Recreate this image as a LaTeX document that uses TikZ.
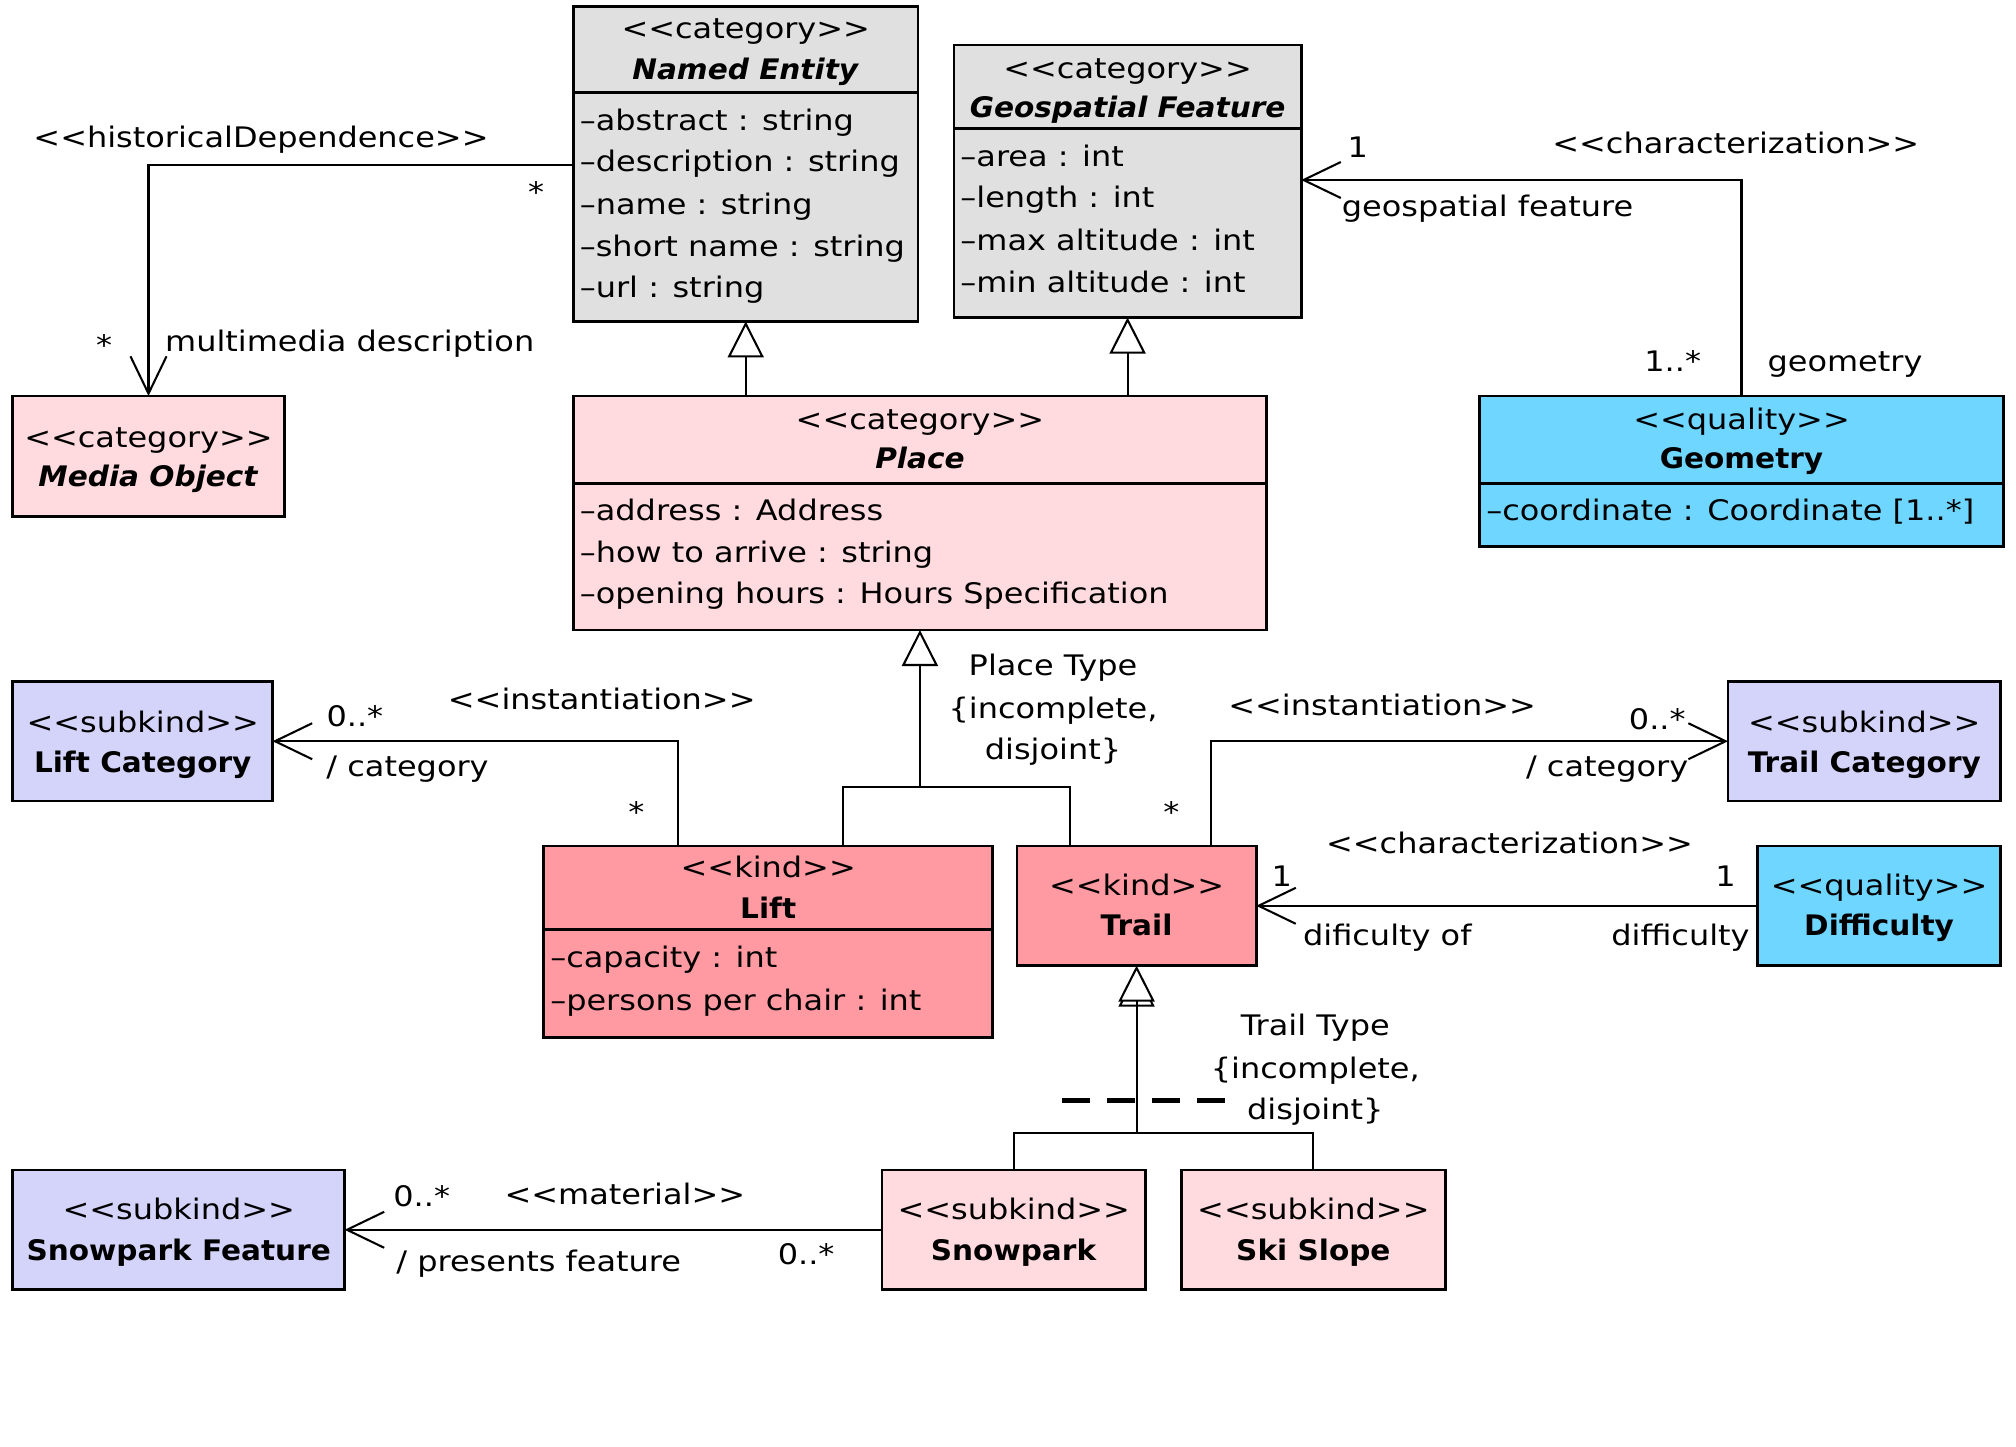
\documentclass[tikz,border=0pt]{standalone}
\usepackage{fontspec}
\setmainfont{DejaVu Sans}[
  UprightFeatures={FakeStretch=1.13},
  BoldFeatures={FakeStretch=1.045},
  BoldItalicFeatures={FakeStretch=1.045}]
\usetikzlibrary{arrows.meta,calc}

\definecolor{catgray}{HTML}{E0E0E0}
\definecolor{lightpink}{HTML}{FFDADE}
\definecolor{kindpink}{HTML}{FF9AA2}
\definecolor{lavender}{HTML}{D4D4FA}
\definecolor{qualcyan}{HTML}{6FD6FF}

% stereotype brackets kept apart so no ligature forms
\newcommand\stereo[1]{<\kern0pt<#1>\kern0pt>}

\tikzset{
  every node/.style={font=\fontsize{22}{26}\selectfont, inner sep=0pt, outer sep=0pt},
  classbox/.style={draw, line width=2.2pt, anchor=north west, inner sep=0pt, outer sep=0pt},
  sep/.style={line width=2.2pt},
  conn/.style={line width=1.6pt},
  assoctip/.style={-{Straight Barb[length=29pt,width=28pt]}},
  gentip/.style={-{Triangle[length=28pt,width=28pt,fill=white]}},
  lbl/.style={anchor=mid, yshift=-5pt},
  attr/.style={anchor=mid west, yshift=-5pt},
}

\begin{document}
\begin{tikzpicture}[x=1pt,y=-1pt]
\useasboundingbox[fill=white] (0,0) rectangle (1568,1125);

% ---------- classes ----------
% Named Entity
\node (ne) [classbox, fill=catgray, minimum width=268pt, minimum height=245pt] at (446,5) {};
\draw[sep] ([yshift=-67pt]ne.north west) -- ([yshift=-67pt]ne.north east);
\node (ne-s) [lbl] at (580,22) {\stereo{category}};
\node (ne-n) [lbl] at (580,54) {\textbf{\textit{Named Entity}}};
\node (ne-a1) [attr] at (451,94) {–abstract : string};
\node (ne-a2) [attr] at (451,126) {–description : string};
\node (ne-a3) [attr] at (451,159) {–name : string};
\node (ne-a4) [attr] at (451,192) {–short name : string};
\node (ne-a5) [attr] at (451,224) {–url : string};

% Geospatial Feature
\node (gf) [classbox, fill=catgray, minimum width=270pt, minimum height=212pt] at (742,35) {};
\draw[sep] ([yshift=-65pt]gf.north west) -- ([yshift=-65pt]gf.north east);
\node (gf-s) [lbl] at (877,53) {\stereo{category}};
\node (gf-n) [lbl] at (877,84) {\textbf{\textit{Geospatial Feature}}};
\node (gf-a1) [attr] at (747,122) {–area : int};
\node (gf-a2) [attr] at (747,154) {–length : int};
\node (gf-a3) [attr] at (747,187) {–max altitude : int};
\node (gf-a4) [attr] at (747,220) {–min altitude : int};

% Media Object
\node (mo) [classbox, fill=lightpink, minimum width=211pt, minimum height=94pt] at (10,308) {};
\node (mo-s) [lbl] at (115.5,340) {\stereo{category}};
\node (mo-n) [lbl] at (115.5,371) {\textbf{\textit{Media Object}}};

% Place
\node (pl) [classbox, fill=lightpink, minimum width=539pt, minimum height=182pt] at (446,308) {};
\draw[sep] ([yshift=-68pt]pl.north west) -- ([yshift=-68pt]pl.north east);
\node (pl-s) [lbl] at (715.5,326) {\stereo{category}};
\node (pl-n) [lbl] at (715.5,357) {\textbf{\textit{Place}}};
\node (pl-a1) [attr] at (451,397) {–address : Address};
\node (pl-a2) [attr] at (451,430) {–how to arrive : string};
\node (pl-a3) [attr] at (451,462) {–opening hours : Hours Specification};

% Geometry
\node (geom) [classbox, fill=qualcyan, minimum width=407pt, minimum height=117pt] at (1151,308) {};
\draw[sep] ([yshift=-68pt]geom.north west) -- ([yshift=-68pt]geom.north east);
\node (geom-s) [lbl] at (1354.5,326) {\stereo{quality}};
\node (geom-n) [lbl] at (1354.5,357) {\textbf{Geometry}};
\node (geom-a1) [attr] at (1156,397) {–coordinate : Coordinate [1..*]};

% Lift Category
\node (lc) [classbox, fill=lavender, minimum width=202pt, minimum height=93pt] at (10,530) {};
\node (lc-s) [lbl] at (111,562) {\stereo{subkind}};
\node (lc-n) [lbl] at (111,593) {\textbf{Lift Category}};

% Trail Category
\node (tc) [classbox, fill=lavender, minimum width=212pt, minimum height=93pt] at (1344,530) {};
\node (tc-s) [lbl] at (1450,562) {\stereo{subkind}};
\node (tc-n) [lbl] at (1450,593) {\textbf{Trail Category}};

% Lift
\node (lift) [classbox, fill=kindpink, minimum width=349pt, minimum height=149pt] at (423,658) {};
\draw[sep] ([yshift=-65pt]lift.north west) -- ([yshift=-65pt]lift.north east);
\node (lift-s) [lbl] at (597.5,675) {\stereo{kind}};
\node (lift-n) [lbl] at (597.5,707) {\textbf{Lift}};
\node (lift-a1) [attr] at (428,745) {–capacity : int};
\node (lift-a2) [attr] at (428,778) {–persons per chair : int};

% Trail
\node (trail) [classbox, fill=kindpink, minimum width=186pt, minimum height=93pt] at (791,658) {};
\node (trail-s) [lbl] at (884,689) {\stereo{kind}};
\node (trail-n) [lbl] at (884,720) {\textbf{Trail}};

% Difficulty
\node (diff) [classbox, fill=qualcyan, minimum width=189pt, minimum height=93pt] at (1367,658) {};
\node (diff-s) [lbl] at (1461.5,689) {\stereo{quality}};
\node (diff-n) [lbl] at (1461.5,720) {\textbf{Difficulty}};

% Snowpark Feature
\node (spf) [classbox, fill=lavender, minimum width=258pt, minimum height=93pt] at (10,910) {};
\node (spf-s) [lbl] at (139,941) {\stereo{subkind}};
\node (spf-n) [lbl] at (139,973) {\textbf{Snowpark Feature}};

% Snowpark
\node (sp) [classbox, fill=lightpink, minimum width=205pt, minimum height=93pt] at (686,910) {};
\node (sp-s) [lbl] at (788.5,941) {\stereo{subkind}};
\node (sp-n) [lbl] at (788.5,973) {\textbf{Snowpark}};

% Ski Slope
\node (ss) [classbox, fill=lightpink, minimum width=205pt, minimum height=93pt] at (919,910) {};
\node (ss-s) [lbl] at (1021.5,941) {\stereo{subkind}};
\node (ss-n) [lbl] at (1021.5,973) {\textbf{Ski Slope}};

% ---------- generalizations ----------
\draw[conn, gentip] (ne.south |- pl.north) -- (ne.south);
\draw[conn, gentip] (gf.south |- pl.north) -- (gf.south);

% Place Type set
\coordinate (ptj) at ($(pl.south)+(0,122)$);
\coordinate (liftgen) at ($(lift.north west)+(233,0)$);
\coordinate (trailgen) at ($(trail.north west)+(41,0)$);
\draw[conn] (liftgen) -- (liftgen |- ptj) -- (trailgen |- ptj) -- (trailgen);
\draw[conn, gentip] (ptj) -- (pl.south);
\node (pt-1) [lbl] at (819,518) {Place Type};
\node (pt-2) [lbl] at (819,551) {\{incomplete,};
\node (pt-3) [lbl] at (819,583) {disjoint\}};

% Trail Type set
\coordinate (ttj) at ($(trail.south)+(0,130)$);
\draw[conn] (sp.north) -- (sp.north |- ttj) -- (ss.north |- ttj) -- (ss.north);
\draw[conn, gentip] (ttj) -- ([yshift=-4pt]trail.south);
\draw[conn, gentip] (ttj) -- (trail.south);
\coordinate (tdl) at ($(ttj)+(-58,-25)$);
\coordinate (tdr) at ($(ttj)+(69,-25)$);
\draw[line width=3.5pt, dash pattern=on 22pt off 13pt] (tdl) -- (tdr);
\node (tt-1) [lbl] at (1023,798) {Trail Type};
\node (tt-2) [lbl] at (1023,831) {\{incomplete,};
\node (tt-3) [lbl] at (1023,863) {disjoint\}};

% ---------- associations ----------
% historical dependence
\draw[conn, assoctip] ([yshift=-123pt]ne.north west) -| (mo.north);
\node (hd-st) [lbl] at (203,107) {\stereo{historicalDependence}};
\node (hd-m1) [lbl] at (417,150) {*};
\node (hd-m2) [lbl] at (81,269) {*};
\node (hd-r) [lbl] at (272,266) {multimedia description};

% geometry characterization
\draw[conn, assoctip] (geom.north) |- ([yshift=-105pt]gf.north east);
\node (gc-st) [lbl] at (1350,112) {\stereo{characterization}};
\node (gc-m1) [lbl] at (1056,115) {1};
\node (gc-r1) [lbl] at (1157,161) {geospatial feature};
\node (gc-m2) [lbl] at (1301,281) {1..*};
\node (gc-r2) [lbl] at (1435,281) {geometry};

% lift instantiation
\draw[conn, assoctip] ($(lift.north west)+(104,0)$) |- (lc.east);
\node (li-st) [lbl] at (468,544) {\stereo{instantiation}};
\node (li-m1) [lbl] at (276,557) {0..*};
\node (li-r) [lbl] at (317,596) {/ category};
\node (li-m2) [lbl] at (495,632) {*};

% trail instantiation
\draw[conn, assoctip] ($(trail.north west)+(151,0)$) |- (tc.west);
\node (ti-st) [lbl] at (1075,549) {\stereo{instantiation}};
\node (ti-m1) [lbl] at (1289,560) {0..*};
\node (ti-r) [lbl] at (1250,596) {/ category};
\node (ti-m2) [lbl] at (911,632) {*};

% difficulty characterization
\draw[conn, assoctip] (diff.west) -- (trail.east);
\node (dc-st) [lbl] at (1174,656) {\stereo{characterization}};
\node (dc-m1) [lbl] at (997,682) {1};
\node (dc-m2) [lbl] at (1342,682) {1};
\node (dc-r1) [lbl] at (1079,728) {dificulty of};
\node (dc-r2) [lbl] at (1307,728) {difficulty};

% material
\draw[conn, assoctip] (sp.west) -- (spf.east);
\node (ma-st) [lbl] at (486,929) {\stereo{material}};
\node (ma-m1) [lbl] at (328,931) {0..*};
\node (ma-r) [lbl] at (419,981) {/ presents feature};
\node (ma-m2) [lbl] at (627,976) {0..*};
\end{tikzpicture}
\end{document}
